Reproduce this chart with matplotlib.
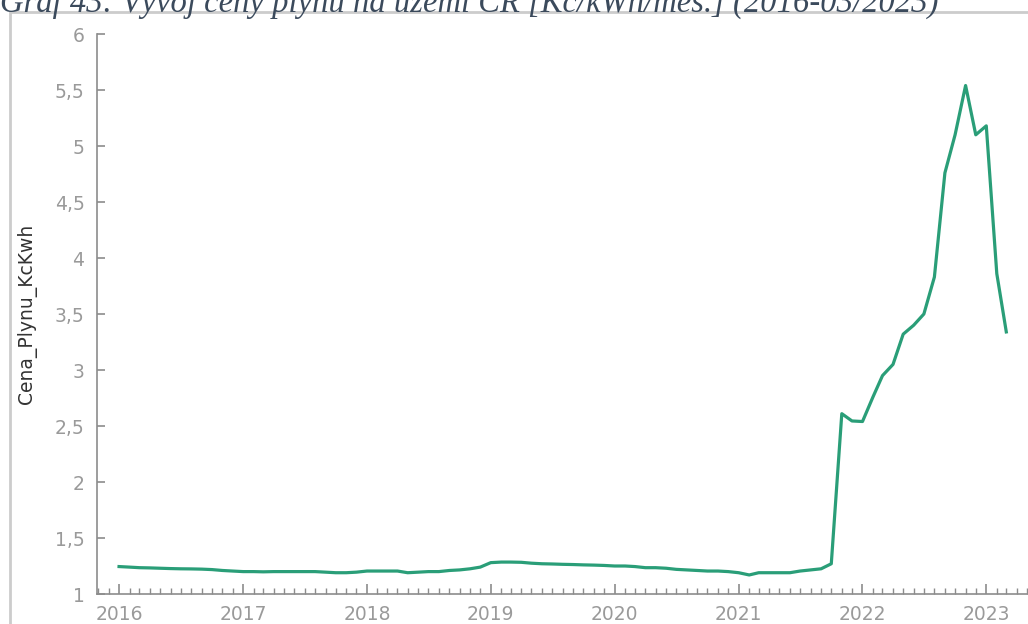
import pandas as pd
import numpy as np
import matplotlib
matplotlib.use("Agg")
import matplotlib.pyplot as plt
import matplotlib.dates as mdates
from matplotlib.patches import Rectangle
from matplotlib.ticker import FuncFormatter

# monthly gas price, Kc/kWh (2016-01 .. 2023-03)
prices_2016 = [1.245, 1.24, 1.235, 1.233, 1.23, 1.227, 1.225, 1.224, 1.222, 1.218, 1.21, 1.205]
prices_2017 = [1.20, 1.20, 1.198, 1.20, 1.20, 1.20, 1.20, 1.20, 1.195, 1.19, 1.19, 1.195]
prices_2018 = [1.205, 1.205, 1.205, 1.205, 1.19, 1.195, 1.20, 1.20, 1.21, 1.215, 1.225, 1.24]
prices_2019 = [1.28, 1.285, 1.285, 1.283, 1.275, 1.27, 1.268, 1.265, 1.263, 1.26, 1.258, 1.255]
prices_2020 = [1.25, 1.25, 1.245, 1.235, 1.235, 1.23, 1.22, 1.215, 1.21, 1.205, 1.205, 1.20]
prices_2021 = [1.19, 1.17, 1.19, 1.19, 1.19, 1.19, 1.205, 1.215, 1.225, 1.27, 2.61, 2.545]
prices_2022 = [2.54, 2.76, 2.95, 3.05, 3.32, 3.40, 3.50, 3.83, 4.76, 5.10, 5.54, 5.10]
prices_2023 = [5.18, 3.86, 3.34]

prices = (prices_2016 + prices_2017 + prices_2018 + prices_2019
          + prices_2020 + prices_2021 + prices_2022 + prices_2023)
dates = pd.date_range("2016-01-01", periods=len(prices), freq="MS")

title = "Graf 43: Vývoj ceny plynu na území ČR [Kč/kWh/měs.] (2016-03/2023)"
ylabel = "Cena_Plynu_KcKwh"

W, H = 1028, 624
fig = plt.figure(figsize=(W / 100, H / 100), dpi=100)
fig.patch.set_facecolor("white")

# outer frame of the embedded chart
fig.patches.append(Rectangle((10 / W, -0.1), 1.2, 1.1 - 12 / H,
                             transform=fig.transFigure, fill=False,
                             ec="#cccccc", lw=2))

# caption, cut off by the top edge as in the source screenshot
fig.text(0 / W, 1 - 12 / H, title, fontsize=23.5, family="Liberation Serif",
         style="italic", color="#3b4a5c", ha="left", va="baseline")

ax = fig.add_axes([97 / W, 30 / H, (W - 97) / W, 560 / H])
ax.plot(dates, prices, color="#2a9e78", lw=2.3)

ax.set_ylim(1, 6)
ax.set_xlim(pd.Timestamp("2015-10-28"), pd.Timestamp("2023-05-04"))
ax.set_yticks(np.arange(1, 6.01, 0.5))
ax.yaxis.set_major_formatter(FuncFormatter(lambda v, p: ("%g" % v).replace(".", ",")))

ax.xaxis.set_major_locator(mdates.YearLocator())
ax.xaxis.set_major_formatter(mdates.DateFormatter("%Y"))
ax.xaxis.set_minor_locator(mdates.MonthLocator())

for s in ["top", "right"]:
    ax.spines[s].set_visible(False)
for s in ["left", "bottom"]:
    ax.spines[s].set_color("#8c8c8c")
    ax.spines[s].set_linewidth(1.2)

ax.tick_params(axis="both", which="both", direction="in", colors="#8c8c8c",
               labelcolor="#9a9a9a", labelsize=13.5)
ax.tick_params(axis="x", which="major", length=7, width=1.2, pad=8)
ax.tick_params(axis="x", which="minor", length=4, width=1)
ax.tick_params(axis="y", which="major", length=6, width=1.2, pad=9)

ax.set_ylabel(ylabel, fontsize=13.5, color="#333333")
ax.yaxis.set_label_coords(-60 / (W - 97), 0.5)

fig.savefig("out.png", dpi=100)
